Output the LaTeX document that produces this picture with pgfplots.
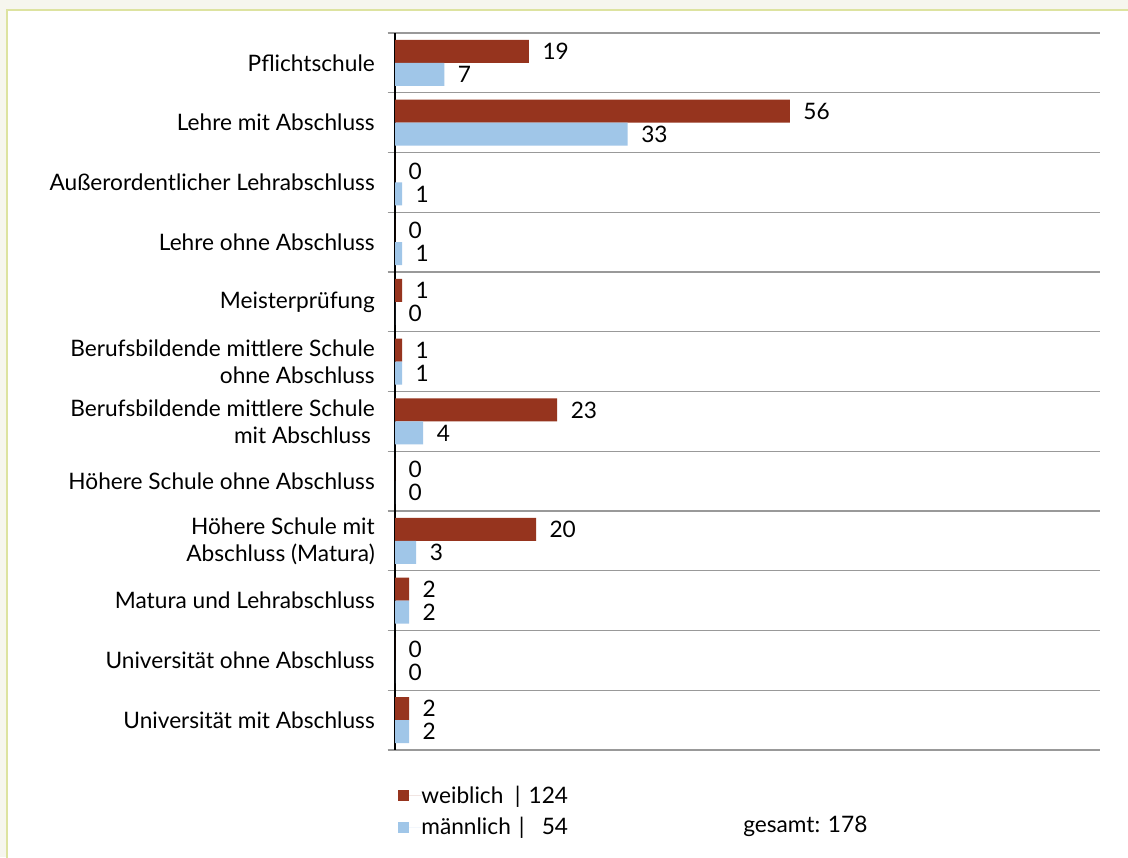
\documentclass[border=0pt]{standalone}
\usepackage{pgfplots}
\pgfplotsset{compat=1.18}
\usepackage{fontspec}
\setmainfont{Lato}
\definecolor{weib}{HTML}{96341E}
\definecolor{mann}{HTML}{A0C6E8}
\definecolor{bg}{HTML}{F6F6EE}
\definecolor{framec}{HTML}{DDE3A0}

\pgfplotstableread{
idx w m
0 19 7
1 56 33
2 0 1
3 0 1
4 1 0
5 1 1
6 23 4
7 0 0
8 20 3
9 2 2
10 0 0
11 2 2
}\datatable

\begin{document}
\begin{tikzpicture}
\useasboundingbox (0,0) rectangle (846pt,642.75pt);
\begin{scope}
\clip (0,0) rectangle (846pt,642.75pt);
\fill[bg] (0,0) rectangle (846pt,642.75pt);
\filldraw[fill=white,draw=framec,line width=1.5pt] (5.25pt,-20pt) rectangle (870pt,635.25pt);
\end{scope}
\begin{axis}[
  at={(296.25pt,80.25pt)}, anchor=south west,
  scale only axis, width=528.75pt, height=537.75pt,
  xbar, bar width=17.25pt,
  xmin=0, xmax=100, ymin=-0.5, ymax=11.5, y dir=reverse,
  hide x axis,
  axis y line*=left,
  y axis line style={-,black,line width=0.9pt},
  ytick={0,...,11},
  yticklabels={Pflichtschule,Lehre mit Abschluss,Außerordentlicher Lehrabschluss,Lehre ohne Abschluss,Meisterprüfung,{Berufsbildende mittlere Schule\\ohne Abschluss},{Berufsbildende mittlere Schule\\mit Abschluss\,},Höhere Schule ohne Abschluss,{Höhere Schule mit\\Abschluss (Matura)},Matura und Lehrabschluss,Universität ohne Abschluss,Universität mit Abschluss},
  major tick length=0pt,
  minor ytick={-0.5,0.5,...,11.5},
  yminorgrids,
  minor grid style={black!40,line width=1.1pt},
  minor tick length=5.5pt, tick align=outside,
  tick style={black!40,line width=1.1pt},
  yticklabel style={font=\fontsize{17}{20.25}\selectfont, align=right, anchor=east, inner sep=0pt, xshift=-15pt},
  /pgf/number format/assume math mode=true,
  nodes near coords,
  nodes near coords style={font=\fontsize{17}{20}\selectfont, anchor=west, inner sep=0pt, xshift=10pt, text=black},
  legend style={at={(axis description cs:0.004,-0.05)}, anchor=north west, draw=none, fill=none,
    font=\fontsize{17}{20}\selectfont, row sep=9pt, inner sep=0pt,
    nodes={inner sep=0pt}},
  legend cell align=left,
  legend image code/.code={\path[#1,draw=none] (0pt,-4.1pt) rectangle (8.25pt,4.1pt);\path (0pt,0pt) -- (17.5pt,0pt);},
]
\addplot[fill=weib, draw=none, bar shift=8.625pt] table[x=w,y=idx]{\datatable};
\addlegendentry{\makebox[70pt][l]{weiblich}\makebox[12pt][l]{|}\makebox[28pt][r]{124}}
\addplot[fill=mann, draw=none, bar shift=-8.625pt] table[x=m,y=idx]{\datatable};
\addlegendentry{\makebox[73pt][l]{männlich}\makebox[9pt][l]{|}\makebox[28pt][r]{54}}
\end{axis}
\node[anchor=west, inner sep=0pt, font=\fontsize{17}{20}\selectfont] at (557.25pt,23.25pt) {gesamt: 178};
\end{tikzpicture}
\end{document}
